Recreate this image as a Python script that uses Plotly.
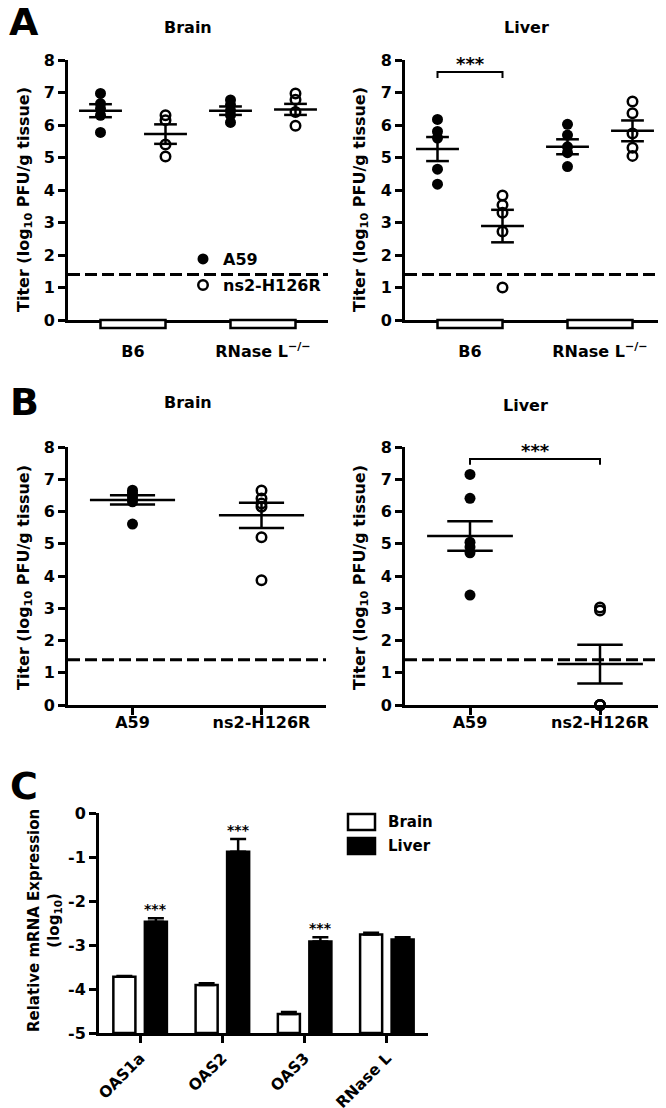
import plotly.graph_objects as go

# ---------------- data ----------------
LOD = 1.4  # limit of detection (log10 PFU/g)

# Panel A (groups of mice, two viruses each)
A_GROUPS = ['B6', 'RNase L<sup>−/−</sup>']
A_VIRUSES = ['A59', 'ns2-H126R', 'A59', 'ns2-H126R']

A_BRAIN_A59_B6 = [6.97, 6.66, 6.50, 6.30, 5.77]
A_BRAIN_NS2_B6 = [6.30, 6.15, 5.40, 5.03]
A_BRAIN_A59_RL = [6.77, 6.62, 6.45, 6.30, 6.08]
A_BRAIN_NS2_RL = [6.97, 6.78, 6.40, 5.98]
A_BRAIN_MEAN = [6.44, 5.72, 6.44, 6.48]
A_BRAIN_SEM = [0.20, 0.30, 0.13, 0.17]

A_LIVER_A59_B6 = [6.17, 5.80, 5.60, 4.64, 4.18]
A_LIVER_NS2_B6 = [3.83, 3.54, 3.30, 2.72, 1.00]
A_LIVER_A59_RL = [6.02, 5.69, 5.33, 5.15, 4.72]
A_LIVER_NS2_RL = [6.72, 6.36, 5.74, 5.30, 5.05]
A_LIVER_MEAN = [5.26, 2.89, 5.33, 5.82]
A_LIVER_SEM = [0.37, 0.50, 0.23, 0.32]

# Panel B (B6 mice)
B_VIRUSES = ['A59', 'ns2-H126R']
B_BRAIN_A59 = [6.66, 6.58, 6.50, 6.42, 6.30, 5.61]
B_BRAIN_NS2 = [6.65, 6.40, 6.25, 6.15, 5.20, 3.87]
B_BRAIN_MEAN = [6.36, 5.88]
B_BRAIN_SEM = [0.14, 0.39]

B_LIVER_A59 = [7.15, 6.41, 5.05, 4.90, 4.72, 3.41]
B_LIVER_NS2 = [3.02, 2.93, 0.0, 0.0, 0.0]
B_LIVER_MEAN = [5.24, 1.27]
B_LIVER_SEM = [0.46, 0.60]

SIG_LABEL = '***'
SIG_PAIR = [0, 1]  # compared columns in the liver panels

# Panel C
C_GENES = ['OAS1a', 'OAS2', 'OAS3', 'RNase L']
C_SERIES = ['Brain', 'Liver']
C_BRAIN = [-3.72, -3.91, -4.57, -2.76]
C_BRAIN_SEM = [0.02, 0.04, 0.05, 0.04]
C_LIVER = [-2.47, -0.875, -2.92, -2.87]
C_LIVER_SEM = [0.08, 0.29, 0.10, 0.05]
C_SIG = ['***', '***', '***', '']
C_BASE = -5

TITER_TITLE = 'Titer (log<sub>10</sub> PFU/g tissue)'
MRNA_TITLE = 'Relative mRNA Expression<br>(log<sub>10</sub>)'

# ---------------- style / layout helpers ----------------
W, H = 666, 1108
OFF = 8  # the page places the figure 8 px in from the top-left corner
FONT = 'DejaVu Sans'
LW = 2.5


def px(x):
    return (x - OFF) / W


def py(y):
    return 1 - (y - OFF) / H


def bold(size):
    return dict(family=FONT, size=size, color='black', weight='bold')


fig = go.Figure()


def add_titer_panel(xa, ya, columns, viruses, means, sems, legend_panel=False,
                    sig=None):
    n = len(columns)
    seen = set()
    for i, vals in enumerate(columns):
        pos = i + 0.5
        virus = viruses[i]
        filled = virus == 'A59'
        marker = dict(symbol='circle' if filled else 'circle-open',
                      size=11 if filled else 9.5, color='black',
                      line=dict(width=0 if filled else LW, color='black'))
        show = legend_panel and virus not in seen
        seen.add(virus)
        fig.add_trace(go.Scatter(
            x=[pos] * len(vals), y=vals, mode='markers', marker=marker,
            name=virus, xaxis=xa, yaxis=ya, cliponaxis=False,
            showlegend=show, legend='legend' if filled else 'legend2'))
    # mean +/- SEM
    xs, ys = [], []
    for i in range(n):
        c, m, s = i + 0.5, means[i], sems[i]
        xs += [c - 0.33, c + 0.33, None, c, c, None,
               c - 0.175, c + 0.175, None, c - 0.175, c + 0.175, None]
        ys += [m, m, None, m - s, m + s, None,
               m + s, m + s, None, m - s, m - s, None]
    fig.add_trace(go.Scatter(x=xs, y=ys, mode='lines',
                             line=dict(color='black', width=LW),
                             xaxis=xa, yaxis=ya, showlegend=False))
    # detection limit
    fig.add_trace(go.Scatter(x=[0, n], y=[LOD, LOD], mode='lines',
                             line=dict(color='black', width=3, dash='12px,5px'),
                             xaxis=xa, yaxis=ya, showlegend=False))
    if sig is not None:
        a, b = sig
        top, drop = 7.63, 0.18
        fig.add_trace(go.Scatter(
            x=[a + 0.5, a + 0.5, b + 0.5, b + 0.5],
            y=[top - drop, top, top, top - drop], mode='lines',
            line=dict(color='black', width=2), xaxis=xa, yaxis=ya,
            showlegend=False))
        fig.add_annotation(x=(a + b) / 2 + 0.5, y=top, xref=xa, yref=ya,
                           text=SIG_LABEL, showarrow=False, yanchor='bottom',
                           yshift=-4, font=bold(18))


add_titer_panel('x', 'y', [A_BRAIN_A59_B6, A_BRAIN_NS2_B6, A_BRAIN_A59_RL,
                           A_BRAIN_NS2_RL], A_VIRUSES, A_BRAIN_MEAN,
                A_BRAIN_SEM, legend_panel=True)
add_titer_panel('x2', 'y2', [A_LIVER_A59_B6, A_LIVER_NS2_B6, A_LIVER_A59_RL,
                             A_LIVER_NS2_RL], A_VIRUSES, A_LIVER_MEAN,
                A_LIVER_SEM, sig=SIG_PAIR)
add_titer_panel('x3', 'y3', [B_BRAIN_A59, B_BRAIN_NS2], B_VIRUSES,
                B_BRAIN_MEAN, B_BRAIN_SEM)
add_titer_panel('x4', 'y4', [B_LIVER_A59, B_LIVER_NS2], B_VIRUSES,
                B_LIVER_MEAN, B_LIVER_SEM, sig=SIG_PAIR)

# group boxes under the panel-A x axes
for xa in ['x', 'x2']:
    ya = 'y' if xa == 'x' else 'y2'
    for g in range(len(A_GROUPS)):
        fig.add_shape(type='rect', xref=xa, yref=ya + ' domain',
                      x0=2 * g + 0.5, x1=2 * g + 1.5, y0=-8 / 260, y1=0,
                      line=dict(color='black', width=LW), fillcolor='white',
                      layer='above')

# Panel C bars
c_pos = [i + 0.5 for i in range(len(C_GENES))]
for name, vals, sems, fill in [(C_SERIES[0], C_BRAIN, C_BRAIN_SEM, 'white'),
                               (C_SERIES[1], C_LIVER, C_LIVER_SEM, 'black')]:
    fig.add_trace(go.Bar(
        x=c_pos, y=[v - C_BASE for v in vals], base=C_BASE, name=name,
        marker=dict(color=fill, line=dict(color='black', width=LW)),
        error_y=dict(type='data', symmetric=False, array=sems,
                     arrayminus=[0] * len(sems), color='black',
                     thickness=LW, width=8),
        xaxis='x5', yaxis='y5', showlegend=False))

BARGAP = 0.234
liver_off = (1 - BARGAP) / 4
for i, s in enumerate(C_SIG):
    if s:
        fig.add_annotation(x=c_pos[i] + liver_off, y=C_LIVER[i] + C_LIVER_SEM[i],
                           xref='x5', yref='y5', text=s, showarrow=False,
                           yanchor='bottom', yshift=-1, font=bold(14))

# ---------------- axes ----------------


def axis(**kw):
    d = dict(showline=True, linecolor='black', linewidth=3, ticks='outside',
             ticklen=7, tickwidth=LW, tickcolor='black', showgrid=False,
             zeroline=False, tickfont=bold(16), fixedrange=True,
             automargin=False)
    d.update(kw)
    return d


titer_ticks = list(range(0, 9))
yA = [py(320), py(60)]
yB = [py(705), py(447)]
fig.update_layout(
    xaxis=axis(domain=[px(68), px(328)], range=[0, 4], anchor='y',
               tickvals=[1, 3], ticktext=A_GROUPS, ticklen=15,
               tickcolor='rgba(0,0,0,0)'),
    yaxis=axis(domain=yA, range=[0, 8], anchor='x', tickvals=titer_ticks),
    xaxis2=axis(domain=[px(405), px(665)], range=[0, 4], anchor='y2',
                tickvals=[1, 3], ticktext=A_GROUPS, ticklen=15,
                tickcolor='rgba(0,0,0,0)'),
    yaxis2=axis(domain=yA, range=[0, 8], anchor='x2', tickvals=titer_ticks),
    xaxis3=axis(domain=[px(68), px(326)], range=[0, 2], anchor='y3',
                tickvals=[0.5, 1.5], ticktext=B_VIRUSES,
                ticklabelstandoff=-6),
    yaxis3=axis(domain=yB, range=[0, 8], anchor='x3', tickvals=titer_ticks),
    xaxis4=axis(domain=[px(405), px(665)], range=[0, 2], anchor='y4',
                tickvals=[0.5, 1.5], ticktext=B_VIRUSES,
                ticklabelstandoff=-6),
    yaxis4=axis(domain=yB, range=[0, 8], anchor='x4', tickvals=titer_ticks),
    xaxis5=axis(domain=[px(99), px(428)], range=[0, 4], anchor='y5',
                tickvals=c_pos, ticktext=C_GENES, tickangle=-45,
                tickfont=bold(15.5)),
    yaxis5=axis(domain=[py(1033), py(813.3)], range=[-5, 0], anchor='x5',
                tickvals=[0, -1, -2, -3, -4, -5],
                ticktext=['0', '-1', '-2', '-3', '-4', '-5']),
    barmode='group', bargap=BARGAP, bargroupgap=0.3,
    width=W, height=H, margin=dict(l=0, r=0, t=0, b=0, autoexpand=False),
    paper_bgcolor='white', plot_bgcolor='white',
    font=bold(15),
    legend=dict(x=px(183), y=py(259), xanchor='left', yanchor='middle',
                font=bold(16), bgcolor='rgba(0,0,0,0)'),
    legend2=dict(x=px(183), y=py(285), xanchor='left', yanchor='middle',
                 font=bold(16), bgcolor='rgba(0,0,0,0)'),
)

# ---------------- text ----------------
def note(x, y, text, size, angle=0, xanchor='center'):
    fig.add_annotation(x=px(x), y=py(y), xref='paper', yref='paper',
                       text=text, showarrow=False, textangle=angle,
                       xanchor=xanchor, yanchor='middle', font=bold(size))


note(24, 22, 'A', 38)
note(24, 402, 'B', 38)
note(24, 786, 'C', 38)
note(188, 27, 'Brain', 16)
note(526, 27, 'Liver', 16)
note(188, 403, 'Brain', 16)
note(525, 405, 'Liver', 16)
note(24, 200, TITER_TITLE, 16, angle=-90)
note(360, 200, TITER_TITLE, 16, angle=-90)
note(24, 578, TITER_TITLE, 16, angle=-90)
note(360, 578, TITER_TITLE, 16, angle=-90)
note(44, 921, MRNA_TITLE, 15, angle=-90)

# panel C legend
for k, (name, fill) in enumerate(zip(C_SERIES, ['white', 'black'])):
    yc = 822 + 24 * k
    fig.add_shape(type='rect', xref='paper', yref='paper',
                  x0=px(348), x1=px(375), y0=py(yc - 8), y1=py(yc + 8),
                  line=dict(color='black', width=LW), fillcolor=fill)
    note(386, yc, name, 15, xanchor='left')

fig.write_html('out.html')
